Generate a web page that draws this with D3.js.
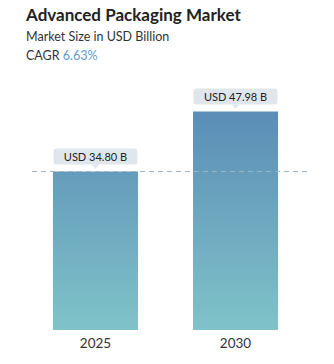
<!DOCTYPE html>
<html><head><meta charset="utf-8">
<script src="https://cdn.jsdelivr.net/npm/d3@7"></script>
<style>body{margin:0;background:#fff;}svg{display:block;font-family:Lato,"Open Sans",sans-serif;}</style>
</head><body>
<svg id="c" width="334" height="364"></svg>
<script>
const categories = ["2025", "2030"];
const values = [34.80, 47.98];
const valueLabels = ["USD 34.80 B", "USD 47.98 B"];
const title = "Advanced Packaging Market";
const subtitle = "Market Size in USD Billion";
const cagrLabel = "CAGR";
const cagrValue = "6.63%";

const svg = d3.select("#c");
const x = d3.scaleBand().domain(categories).range([25.5, 305.5]).paddingInner(0.393).paddingOuter(0.196);
const y = d3.scaleLinear().domain([0, 47.98]).range([330, 111.5]);

const defs = svg.append("defs");
const g = defs.append("linearGradient").attr("id","bg").attr("x1",0).attr("x2",0)
  .attr("gradientUnits","userSpaceOnUse").attr("y1", y(47.98)).attr("y2", y(0));
g.append("stop").attr("offset","0%").attr("stop-color","#5b8db6");
g.append("stop").attr("offset","100%").attr("stop-color","#7fc3c9");

svg.append("text").attr("x",26).attr("y",21).attr("font-size",17).attr("font-weight",700).attr("fill","#222").text(title);
svg.append("text").attr("x",26).attr("y",41).attr("font-size",12.5).attr("fill","#333").text(subtitle);
const t = svg.append("text").attr("x",26).attr("y",60).attr("font-size",12.5).attr("fill","#333");
t.append("tspan").text(cagrLabel + " ");
t.append("tspan").attr("fill","#5b9bd0").text(cagrValue);

svg.selectAll("rect.bar").data(values).join("rect").attr("class","bar")
  .attr("x",(d,i)=>x(categories[i])).attr("width",x.bandwidth())
  .attr("y",d=>y(d)).attr("height",d=>y(0)-y(d)).attr("fill","url(#bg)");

svg.append("line").attr("x1",32).attr("x2",308).attr("y1",y(values[0])).attr("y2",y(values[0]))
  .attr("stroke","#9fb3c6").attr("stroke-width",1).attr("stroke-dasharray","5,4");

values.forEach((d,i)=>{
  const cx = x(categories[i]) + x.bandwidth()/2;
  const bw = x.bandwidth()-1, bh = 16;
  const by = y(d) - 7 - bh;
  svg.append("rect").attr("x",cx-bw/2).attr("y",by).attr("width",bw).attr("height",bh).attr("rx",3).attr("fill","#dfe7ed");
  svg.append("path").attr("d",`M${cx-4},${by+bh}L${cx+4},${by+bh}L${cx},${by+bh+4}Z`).attr("fill","#dfe7ed");
  svg.append("text").attr("x",cx).attr("y",by+12).attr("text-anchor","middle").attr("font-size",11).attr("fill","#222").text(valueLabels[i]);
});

svg.selectAll("text.cat").data(categories).join("text").attr("class","cat")
  .attr("x",d=>x(d)+x.bandwidth()/2).attr("y",348).attr("text-anchor","middle")
  .attr("font-size",13.5).attr("fill","#333").text(d=>d);
</script>
</body></html>
